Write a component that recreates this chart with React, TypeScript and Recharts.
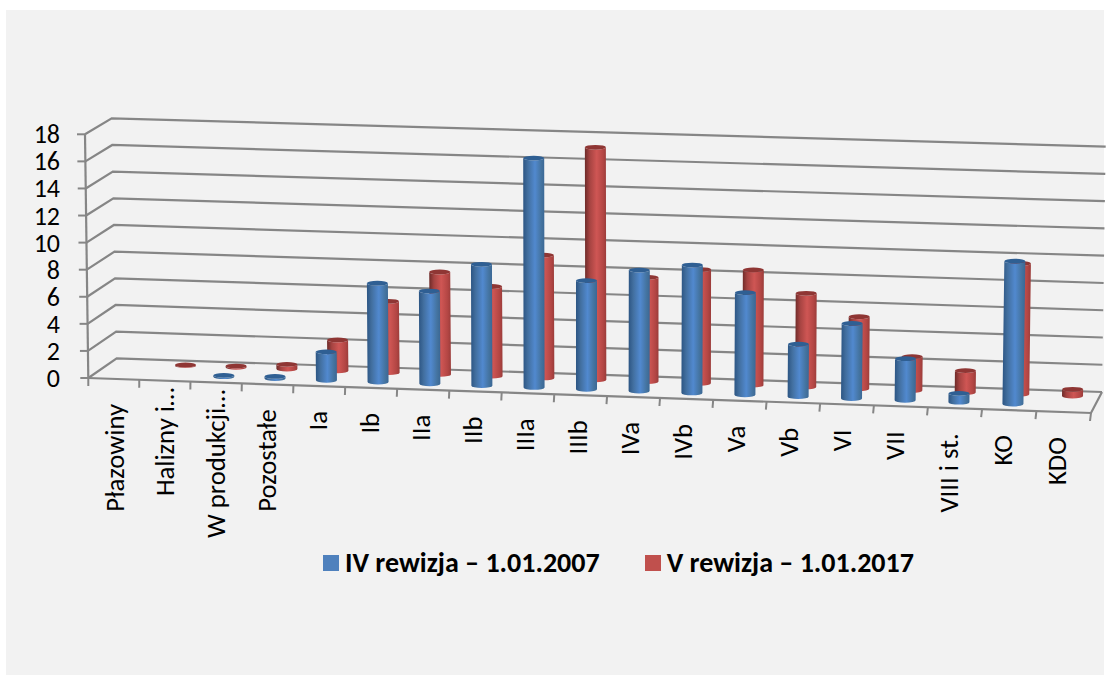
import React from 'react';
import { BarChart, Bar, XAxis, YAxis, CartesianGrid, Legend } from 'recharts';

const categories = ['Płazowiny', 'Halizny i...', 'W produkcji...', 'Pozostałe', 'Ia', 'Ib', 'IIa', 'IIb', 'IIIa', 'IIIb', 'IVa', 'IVb', 'Va', 'Vb', 'VI', 'VII', 'VIII i st.', 'KO', 'KDO'];
const rewizja2007 = [0, 0, 0.1, 0.15, 2.1, 7.3, 6.85, 8.95, 16.9, 8.0, 8.9, 9.4, 7.5, 3.85, 5.5, 3.05, 0.65, 10.45, 0];
const rewizja2017 = [0, 0.05, 0.1, 0.35, 2.3, 5.3, 7.6, 6.65, 9.1, 17.2, 7.7, 8.4, 8.5, 6.9, 5.3, 2.5, 1.6, 9.6, 0.5];
const yTicks = [0, 2, 4, 6, 8, 10, 12, 14, 16, 18];

const data = categories.map((name, i) => ({ name, a: rewizja2007[i], b: rewizja2017[i] }));

const FONT = 'Carlito, Calibri, Lato, sans-serif';
const GRID = '#868686';
const YMAX = 18;

// plot area = front plane of the 3D box
const LEFT = 88.3;
const RIGHT = 1091;
const TOP = 134.3;
const BOTTOM = 378;
const PW = RIGHT - LEFT;
const PH = BOTTOM - TOP;

// box corners: [x, y]
const box = {
  fl0: [88.3, 378], fr0: [1091, 413], bl0: [116.7, 358.3], br0: [1102, 392],
  fl1: [85, 134.3], fr1: [1095, 166], bl1: [111.7, 118.3], br1: [1105.7, 146.7],
};

const mix = (a: number, b: number, k: number) => a + (b - a) * k;

// u across the categories (0..1), t front to back (0..1), v axis value
function project(u: number, t: number, v: number) {
  const w = u + 0.036 * u * (u - 1); // categories get a little wider to the right
  const k = v / YMAX;
  const at = (i: number) => {
    const floor = mix(mix(box.fl0[i], box.fr0[i], w), mix(box.bl0[i], box.br0[i], w), t);
    const ceil = mix(mix(box.fl1[i], box.fr1[i], w), mix(box.bl1[i], box.br1[i], w), t);
    return mix(floor, ceil, k);
  };
  return { x: at(0), y: at(1) };
}

const valueOfY = (y: number) => ((BOTTOM - y) / PH) * YMAX;

const gridLine = (props: any) => {
  const v = valueOfY(props.y1);
  const a = project(0, 0, v);
  const b = project(0, 1, v);
  const c = project(1, 1, v);
  const isFloor = Math.abs(v) < 0.01;
  const front = project(1, 0, 0);
  const top = project(0, 0, YMAX);
  return (
    <g key={props.key ?? `g-${v}`} fill="none" stroke={GRID} strokeWidth={2.2}>
      <polyline points={`${a.x},${a.y} ${b.x},${b.y} ${c.x},${c.y}`} />
      {isFloor && <polyline points={`${a.x},${a.y} ${front.x},${front.y} ${c.x},${c.y}`} />}
      {isFloor && <line x1={a.x} y1={a.y} x2={top.x} y2={top.y} />}
    </g>
  );
};

const YTick = (props: any) => {
  const v = valueOfY(props.y);
  const p = project(0, 0, v);
  return (
    <g>
      <line x1={p.x - 8} y1={p.y} x2={p.x} y2={p.y} stroke={GRID} strokeWidth={2} />
      <text x={60} y={p.y + 9} textAnchor="end" fontFamily={FONT} fontSize={26} fill="#000">{props.payload.value}</text>
    </g>
  );
};

const XTick = (props: any) => {
  const u = (props.x - LEFT) / PW;
  const step = 1 / categories.length;
  const label = String(props.payload.value).replace('...', '…');
  const p = project(u, 0, 0);
  const mark = (uu: number) => {
    const q = project(uu, 0, 0);
    return <line x1={q.x} y1={q.y} x2={q.x - uu * 1} y2={q.y + 8} stroke={GRID} strokeWidth={2} />;
  };
  const lx = p.x - 8 * u + 10;
  const ly = p.y + (label.endsWith('…') ? 7 : 25);
  return (
    <g>
      {mark(u - step / 2)}
      {props.index === categories.length - 1 && mark(1)}
      <text transform={`translate(${lx},${ly}) rotate(-90)`} textAnchor="end" fontFamily={FONT} fontSize={26.7} fill="#000">{label}</text>
    </g>
  );
};

const cylinder = (depth: number, grad: string, capFill: string) => (props: any) => {
  const { x, width, height } = props;
  if (!height || height <= 0) return <g />;
  const u = (x + width / 2 - LEFT) / PW;
  const v = (height / PH) * YMAX;
  const base = project(u, depth, 0);
  const top = project(u, depth, v);
  const rx = width / 2;
  const ry = 2.4;
  const body = `M${top.x - rx},${top.y} L${base.x - rx},${base.y} A${rx},${ry} 0 0 0 ${base.x + rx},${base.y} L${top.x + rx},${top.y} A${rx},${ry} 0 0 1 ${top.x - rx},${top.y} Z`;
  return (
    <g>
      <path d={body} fill={`url(#${grad})`} />
      <ellipse cx={top.x} cy={top.y} rx={rx} ry={ry} fill={capFill} />
    </g>
  );
};

const LegendBox = (props: any) => (
  <div style={{ display: 'flex', fontFamily: FONT, fontWeight: 700, fontSize: 28, color: '#000', lineHeight: '24px', whiteSpace: 'nowrap' }}>
    {(props.payload || []).map((item: any, i: number) => (
      <div key={item.value} style={{ display: 'flex', alignItems: 'center', marginLeft: i === 0 ? 0 : 45 }}>
        <span style={{ width: 16, height: 16, background: item.color, marginRight: 6, display: 'inline-block' }} />
        <span>{item.value}</span>
      </div>
    ))}
  </div>
);

export default function App() {
  return (
    <div style={{ position: 'absolute', left: 0, top: 0, width: 1109, height: 675, background: '#fff', overflow: 'hidden' }}>
      <div style={{ position: 'absolute', left: 6, top: 10, width: 1098, height: 665, background: '#f2f2f2' }} />
      <BarChart
        width={1109}
        height={675}
        data={data}
        barSize={21}
        barGap={-21}
        margin={{ top: TOP, left: LEFT - 60, right: 1109 - RIGHT, bottom: 675 - BOTTOM - 60 }}
        style={{ position: 'absolute', left: 0, top: 0 }}
      >
        <defs>
          <linearGradient id="blueBar" x1="0" y1="0" x2="1" y2="0">
            <stop offset="0" stopColor="#2c5583" />
            <stop offset="0.22" stopColor="#426f9f" />
            <stop offset="0.55" stopColor="#5189cf" />
            <stop offset="0.85" stopColor="#44739f" />
            <stop offset="1" stopColor="#3a6795" />
          </linearGradient>
          <linearGradient id="redBar" x1="0" y1="0" x2="1" y2="0">
            <stop offset="0" stopColor="#6d2a28" />
            <stop offset="0.22" stopColor="#a54341" />
            <stop offset="0.55" stopColor="#cf5654" />
            <stop offset="0.85" stopColor="#b34644" />
            <stop offset="1" stopColor="#9a3c3a" />
          </linearGradient>
        </defs>
        <CartesianGrid vertical={false} horizontal={gridLine} />
        <XAxis dataKey="name" interval={0} height={60} axisLine={false} tickLine={false} tick={<XTick />} />
        <YAxis width={60} domain={[0, YMAX]} ticks={yTicks} interval={0} axisLine={false} tickLine={false} tick={<YTick />} />
        <Legend
          layout="horizontal"
          verticalAlign="middle"
          align="center"
          wrapperStyle={{ left: 323, top: 551, width: 640 }}
          content={<LegendBox />}
        />
        <Bar dataKey="b" name="V rewizja – 1.01.2017" fill="#c0504d" isAnimationActive={false} shape={cylinder(0.76, 'redBar', '#8f3634')} />
        <Bar dataKey="a" name="IV rewizja – 1.01.2007" fill="#4f81bd" isAnimationActive={false} shape={cylinder(0.29, 'blueBar', '#2f5f93')} />
      </BarChart>
    </div>
  );
}
